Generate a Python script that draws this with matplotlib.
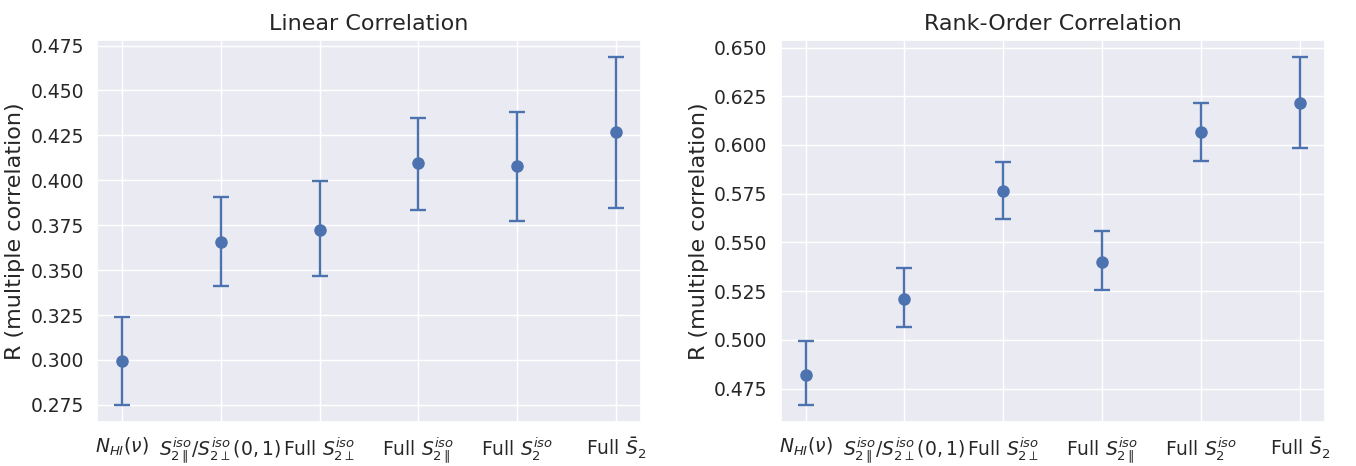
import numpy as np
import matplotlib
matplotlib.use("Agg")
import matplotlib.pyplot as plt
import seaborn as sns

sns.set_theme(style="darkgrid")

labels = [r"$N_{HI}(\nu)$",
          r"$S_{2\parallel}^{iso}/S_{2\perp}^{iso}(0,1)$",
          r"Full $S_{2\perp}^{iso}$",
          r"Full $S_{2\parallel}^{iso}$",
          r"Full $S_{2}^{iso}$",
          r"Full $\bar{S}_2$"]

lin_r = [0.2994, 0.3659, 0.3725, 0.4096, 0.4080, 0.4268]
lin_lo = [0.2750, 0.3409, 0.3465, 0.3836, 0.3775, 0.3847]
lin_hi = [0.3238, 0.3908, 0.3997, 0.4346, 0.4379, 0.4684]

rank_r = [0.4822, 0.5208, 0.5764, 0.5398, 0.6068, 0.6217]
rank_lo = [0.4667, 0.5064, 0.5618, 0.5257, 0.5918, 0.5986]
rank_hi = [0.4992, 0.5367, 0.5914, 0.5558, 0.6217, 0.6449]

lin_ticks = [0.275, 0.300, 0.325, 0.350, 0.375, 0.400, 0.425, 0.450, 0.475]
rank_ticks = [0.475, 0.500, 0.525, 0.550, 0.575, 0.600, 0.625, 0.650]


def draw(ax, r, lo, hi, ticks, title):
    x = np.arange(len(labels))
    r = np.array(r)
    yerr = [r - np.array(lo), np.array(hi) - r]
    ax.errorbar(x, r, yerr=yerr, fmt="o", color="#4c72b0", capsize=5.5,
                markersize=8, elinewidth=1.7, capthick=1.7)
    ax.set_xticks(x)
    ax.set_xticklabels(labels, fontsize=13.5)
    ax.set_yticks(ticks)
    ax.set_yticklabels([f"{v:.3f}" for v in ticks])
    ax.tick_params(axis="y", labelsize=13.5)
    ax.set_ylabel("R (multiple correlation)", fontsize=16)
    ax.set_title(title, fontsize=16, pad=7)


fig, axs = plt.subplots(1, 2, figsize=(13.56, 4.66), dpi=100)
draw(axs[0], lin_r, lin_lo, lin_hi, lin_ticks, "Linear Correlation")
draw(axs[1], rank_r, rank_lo, rank_hi, rank_ticks, "Rank-Order Correlation")

plt.subplots_adjust(left=0.0715, right=0.977, top=0.914, bottom=0.094, wspace=0.257)
plt.savefig("out.png")
